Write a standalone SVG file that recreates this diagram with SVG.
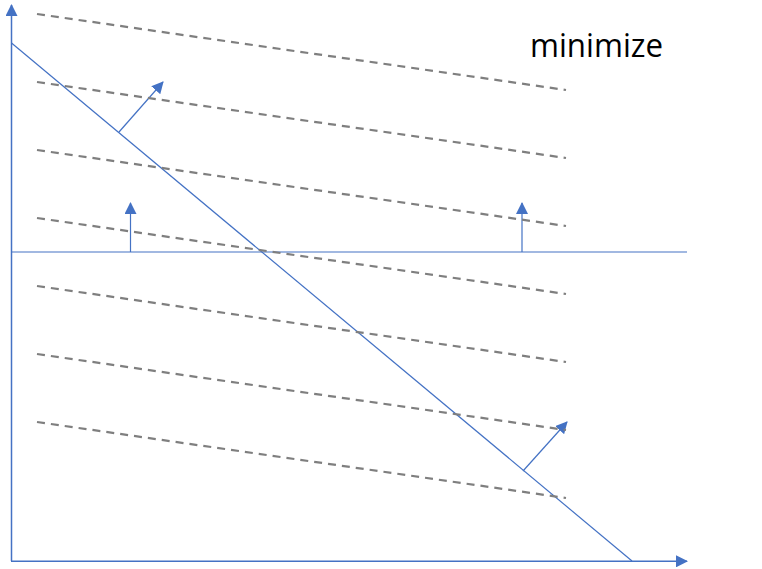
<svg xmlns="http://www.w3.org/2000/svg" width="762" height="569" viewBox="0 0 762 569">
<style>
.ax{stroke:#4472C4;stroke-width:1.5;fill:none}
.ln{stroke:#4472C4;stroke-width:1.2;fill:none}
.ds{stroke:#7F7F7F;stroke-width:2.2;stroke-dasharray:8 6;fill:none}
.t{font-family:"Open Sans","Liberation Sans",sans-serif;font-size:32px;fill:#000}
</style>
<defs>
<marker id="ah" markerUnits="userSpaceOnUse" markerWidth="12" markerHeight="12" viewBox="0 0 12 12" refX="11" refY="6" orient="auto">
<path d="M0,0 L12,6 L0,12 Z" fill="#4472C4"/>
</marker>
</defs>
<rect width="762" height="569" fill="#fff"/>
<g id="connectors">
<line class="ax" x1="11.5" y1="561" x2="11.5" y2="5" marker-end="url(#ah)"/>
<line class="ax" x1="11" y1="561.3" x2="687" y2="561.3" marker-end="url(#ah)"/>
<line class="ln" x1="11.5" y1="43" x2="632" y2="561"/>
<line class="ln" x1="11" y1="252" x2="687" y2="252"/>
<line class="ln" x1="119" y1="132" x2="163" y2="82" marker-end="url(#ah)"/>
<line class="ln" x1="523" y1="471" x2="567" y2="422" marker-end="url(#ah)"/>
<line class="ln" x1="130.5" y1="252" x2="130.5" y2="203" marker-end="url(#ah)"/>
<line class="ln" x1="522" y1="252" x2="522" y2="203" marker-end="url(#ah)"/>
</g>
<g id="level-lines">
<line class="ds" x1="37" y1="14" x2="566" y2="90"/>
<line class="ds" x1="37" y1="82" x2="566" y2="158"/>
<line class="ds" x1="37" y1="150" x2="566" y2="226"/>
<line class="ds" x1="37" y1="218" x2="566" y2="294"/>
<line class="ds" x1="37" y1="286" x2="566" y2="362"/>
<line class="ds" x1="37" y1="354" x2="566" y2="430"/>
<line class="ds" x1="37" y1="422" x2="566" y2="498"/>
</g>
<g id="label">
<text class="t" x="530" y="57" textLength="133" lengthAdjust="spacingAndGlyphs">minimize</text>
</g>
</svg>
